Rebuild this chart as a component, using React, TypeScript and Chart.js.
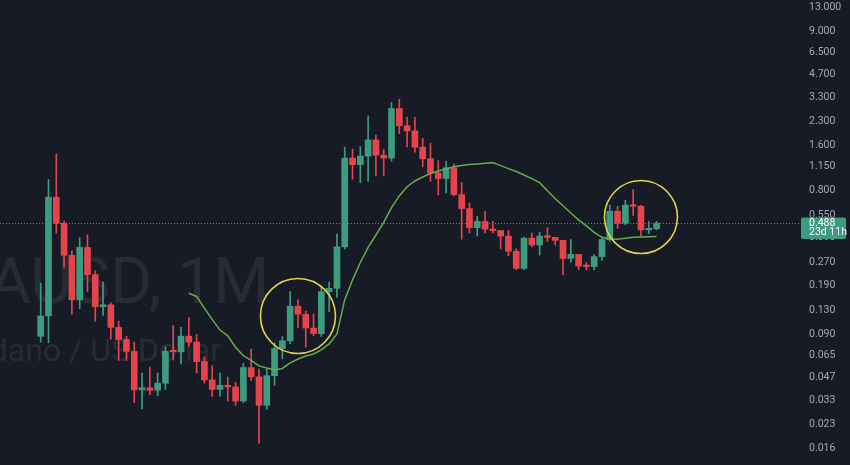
import React, { useEffect, useRef } from "react";
import { Chart, registerables } from "chart.js";

Chart.register(...registerables);

// ---- Data (monthly ADA/USD candles) ----
const candleOpen = [
  0.0873, 0.119, 0.723, 0.487, 0.299, 0.152, 0.337, 0.223, 0.137, 0.141,
  0.1, 0.0832, 0.0694, 0.0387, 0.04, 0.0385, 0.0428, 0.0695, 0.069, 0.0875,
  0.08, 0.0595, 0.045, 0.039, 0.0415, 0.0405, 0.0327, 0.0543, 0.0472, 0.0306,
  0.048, 0.0725, 0.0815, 0.138, 0.122, 0.099, 0.091, 0.172, 0.181, 0.34,
  1.31, 1.185, 1.35, 1.725, 1.37, 1.31, 2.78, 2.14, 1.98, 1.545,
  1.296, 1.045, 0.96, 1.13, 0.752, 0.608, 0.455, 0.5, 0.445, 0.435,
  0.4, 0.318, 0.245, 0.388, 0.35, 0.4, 0.393, 0.375, 0.285, 0.303,
  0.254, 0.252, 0.293, 0.38, 0.584, 0.486, 0.64, 0.63, 0.44, 0.447,
];
const candleClose = [
  0.119, 0.723, 0.487, 0.299, 0.152, 0.337, 0.223, 0.137, 0.141, 0.1,
  0.0832, 0.0694, 0.0387, 0.04, 0.0385, 0.0428, 0.0695, 0.069, 0.0875, 0.08,
  0.0595, 0.045, 0.039, 0.0415, 0.0405, 0.0327, 0.0543, 0.0472, 0.0306, 0.048,
  0.0725, 0.0815, 0.138, 0.122, 0.099, 0.091, 0.172, 0.181, 0.34, 1.31,
  1.185, 1.35, 1.725, 1.37, 1.31, 2.78, 2.14, 1.98, 1.545, 1.296,
  1.045, 0.96, 1.13, 0.752, 0.608, 0.455, 0.5, 0.445, 0.435, 0.4,
  0.318, 0.245, 0.388, 0.35, 0.4, 0.393, 0.375, 0.285, 0.303, 0.254,
  0.252, 0.293, 0.38, 0.584, 0.486, 0.64, 0.63, 0.44, 0.447, 0.488,
];
const candleHigh = [
  0.196, 0.946, 1.398, 0.502, 0.32, 0.39, 0.408, 0.236, 0.2, 0.145,
  0.11, 0.0873, 0.08, 0.05, 0.0547, 0.05, 0.0745, 0.103, 0.1, 0.116,
  0.09, 0.064, 0.056, 0.05, 0.047, 0.0435, 0.058, 0.072, 0.053, 0.053,
  0.079, 0.087, 0.172, 0.152, 0.128, 0.123, 0.188, 0.2, 0.414, 1.545,
  1.5, 1.56, 2.49, 1.86, 1.49, 3.05, 3.2, 2.43, 2.43, 1.77,
  1.64, 1.26, 1.25, 1.2, 0.9, 0.66, 0.54, 0.58, 0.5, 0.435,
  0.437, 0.33, 0.395, 0.42, 0.425, 0.455, 0.393, 0.377, 0.38, 0.303,
  0.267, 0.303, 0.388, 0.64, 0.63, 0.69, 0.81, 0.64, 0.5, 0.5,
];
const candleLow = [
  0.08, 0.079, 0.42, 0.25, 0.122, 0.133, 0.172, 0.11, 0.12, 0.0835,
  0.0606, 0.0605, 0.0319, 0.029, 0.036, 0.0354, 0.039, 0.061, 0.0573, 0.075,
  0.05, 0.0428, 0.035, 0.035, 0.0327, 0.0305, 0.0319, 0.0445, 0.0172, 0.0287,
  0.0415, 0.062, 0.078, 0.1, 0.074, 0.088, 0.087, 0.127, 0.158, 0.33,
  0.95, 0.9, 0.92, 1.0, 1.0, 1.25, 1.9, 1.55, 1.43, 1.145,
  0.92, 0.75, 0.77, 0.74, 0.382, 0.42, 0.4, 0.42, 0.42, 0.33,
  0.297, 0.24, 0.24, 0.34, 0.3, 0.37, 0.35, 0.222, 0.27, 0.24,
  0.24, 0.24, 0.277, 0.37, 0.45, 0.475, 0.548, 0.4, 0.415, 0.44,
];
// 20-period moving average (starts at candle 19)
const maStart = 19;
const maValues = [
  0.168, 0.16, 0.134, 0.113, 0.096, 0.088, 0.074, 0.065, 0.0605, 0.0557,
  0.054, 0.0524, 0.0536, 0.0583, 0.0619, 0.0648, 0.0668, 0.071, 0.0778, 0.0905,
  0.1525, 0.2056, 0.268, 0.337, 0.407, 0.4925, 0.6175, 0.737, 0.848, 0.925,
  0.983, 1.036, 1.077, 1.11, 1.149, 1.171, 1.189, 1.198, 1.21, 1.222,
  1.167, 1.115, 1.067, 1.013, 0.959, 0.901, 0.798, 0.707, 0.635, 0.569,
  0.512, 0.467, 0.424, 0.393, 0.383, 0.382, 0.388, 0.393, 0.395, 0.397,
  0.398,
];
const yTickValues = [
  13, 9, 6.5, 4.7, 3.3, 2.3, 1.6, 1.15, 0.8, 0.55, 0.39, 0.27, 0.19, 0.13,
  0.09, 0.065, 0.047, 0.033, 0.023, 0.016,
];
// highlight circles (candle index, price)
const circleIndex = [33, 77];
const circlePrice = [0.119, 0.535];
const countdownText = "23d 11h";
const titleText = "ADAUSD, 1M";
const subtitleText = "Cardano / US Dollar";

const BG = "#171b26";
const UP = "#3d9c80";
const DOWN = "#e5444c";
const MA_COLOR = "#62ad4c";
const TEXT = "#a6a9b2";

export default function App() {
  const ref = useRef<HTMLCanvasElement | null>(null);

  useEffect(() => {
    const canvas = ref.current;
    if (!canvas) return;
    const n = candleClose.length;
    const colors = candleClose.map((c, i) => (c >= candleOpen[i] ? UP : DOWN));
    const wickData = candleHigh.map((h, i) => ({ x: i, y: [candleLow[i], h] }));
    const bodyData = candleOpen.map((o, i) => ({ x: i, y: [o, candleClose[i]] }));
    const maData = maValues.map((v, k) => ({ x: maStart + k, y: v }));
    const last = candleClose[n - 1];

    const overlay = {
      id: "overlay",
      beforeDraw(chart: any) {
        const ctx = chart.ctx;
        ctx.save();
        ctx.fillStyle = BG;
        ctx.fillRect(0, 0, chart.width, chart.height);
        ctx.restore();
      },
      beforeDatasetsDraw(chart: any) {
        const ctx = chart.ctx;
        const { chartArea } = chart;
        const ys = chart.scales.y;
        ctx.save();
        // watermark
        ctx.fillStyle = "rgba(255,255,255,0.075)";
        ctx.textAlign = "right";
        ctx.textBaseline = "alphabetic";
        ctx.font = "64px Roboto";
        ctx.fillText(titleText, 269, 303);
        ctx.font = "32px Roboto";
        ctx.fillText(subtitleText, 221, 361);
        // current price dotted line
        const py = Math.round(ys.getPixelForValue(last)) + 0.5;
        ctx.strokeStyle = UP;
        ctx.lineWidth = 1;
        ctx.setLineDash([1, 2]);
        ctx.beginPath();
        ctx.moveTo(chartArea.left, py);
        ctx.lineTo(chartArea.right, py);
        ctx.stroke();
        ctx.restore();
      },
      afterDatasetsDraw(chart: any) {
        const ctx = chart.ctx;
        const xs = chart.scales.x;
        const ys = chart.scales.y;
        ctx.save();
        ctx.strokeStyle = "#e2d34b";
        ctx.lineWidth = 1.6;
        const radii = [37.5, 36.5];
        circleIndex.forEach((ci, k) => {
          const cx = xs.getPixelForValue(ci);
          const cy = ys.getPixelForValue(circlePrice[k]);
          ctx.beginPath();
          ctx.arc(cx, cy, radii[k], 0, Math.PI * 2);
          ctx.stroke();
        });
        ctx.restore();
      },
      afterDraw(chart: any) {
        const ctx = chart.ctx;
        const ys = chart.scales.y;
        const { chartArea } = chart;
        const py = ys.getPixelForValue(last);
        ctx.save();
        ctx.fillStyle = UP;
        const x0 = chartArea.right + 1;
        ctx.beginPath();
        (ctx as any).roundRect
          ? (ctx as any).roundRect(x0, py - 5.5, 45, 21.5, 2)
          : ctx.rect(x0, py - 5.5, 45, 21.5);
        ctx.fill();
        ctx.fillStyle = "#ffffff";
        ctx.font = "10.5px Roboto";
        ctx.textAlign = "left";
        ctx.textBaseline = "middle";
        ctx.fillText(last.toFixed(3), x0 + 8, py);
        ctx.fillText(countdownText, x0 + 8, py + 9.5);
        ctx.restore();
      },
    };

    const chart = new Chart(canvas, {
      type: "bar",
      data: {
        datasets: [
          {
            type: "line",
            data: maData as any,
            borderColor: MA_COLOR,
            borderWidth: 1.5,
            pointRadius: 0,
            tension: 0,
            order: 1,
          } as any,
          {
            data: bodyData as any,
            backgroundColor: colors,
            barThickness: 6,
            minBarLength: 1.5,
            grouped: false,
            order: 2,
          } as any,
          {
            data: wickData as any,
            backgroundColor: colors,
            barThickness: 1,
            grouped: false,
            order: 3,
          } as any,
        ],
      },
      options: {
        responsive: false,
        animation: false,
        layout: { padding: 0 },
        plugins: {
          legend: { display: false },
          tooltip: { enabled: false },
        },
        scales: {
          x: {
            type: "linear",
            min: -5.22,
            max: 97.4,
            display: false,
            offset: false,
          },
          y: {
            type: "logarithmic",
            position: "right",
            bounds: "data",
            min: 0.01236,
            max: 14.46,
            grid: { display: false, drawTicks: false },
            border: { display: false },
            afterFit: (scale: any) => {
              scale.width = 50;
              scale.paddingTop = 0;
              scale.paddingBottom = 0;
            },
            afterBuildTicks: (scale: any) => {
              scale.ticks = yTickValues.map((v) => ({ value: v }));
            },
            ticks: {
              autoSkip: false,
              padding: 9,
              color: TEXT,
              font: { family: "Roboto", size: 10.5 },
              callback: (v: any) => Number(v).toFixed(3),
            },
          },
        },
      },
      plugins: [overlay],
    } as any);

    return () => chart.destroy();
  }, []);

  return (
    <div
      style={{
        position: "fixed",
        left: 0,
        top: 0,
        width: 850,
        height: 465,
        background: BG,
      }}
    >
      <canvas ref={ref} width={850} height={465} />
    </div>
  );
}
